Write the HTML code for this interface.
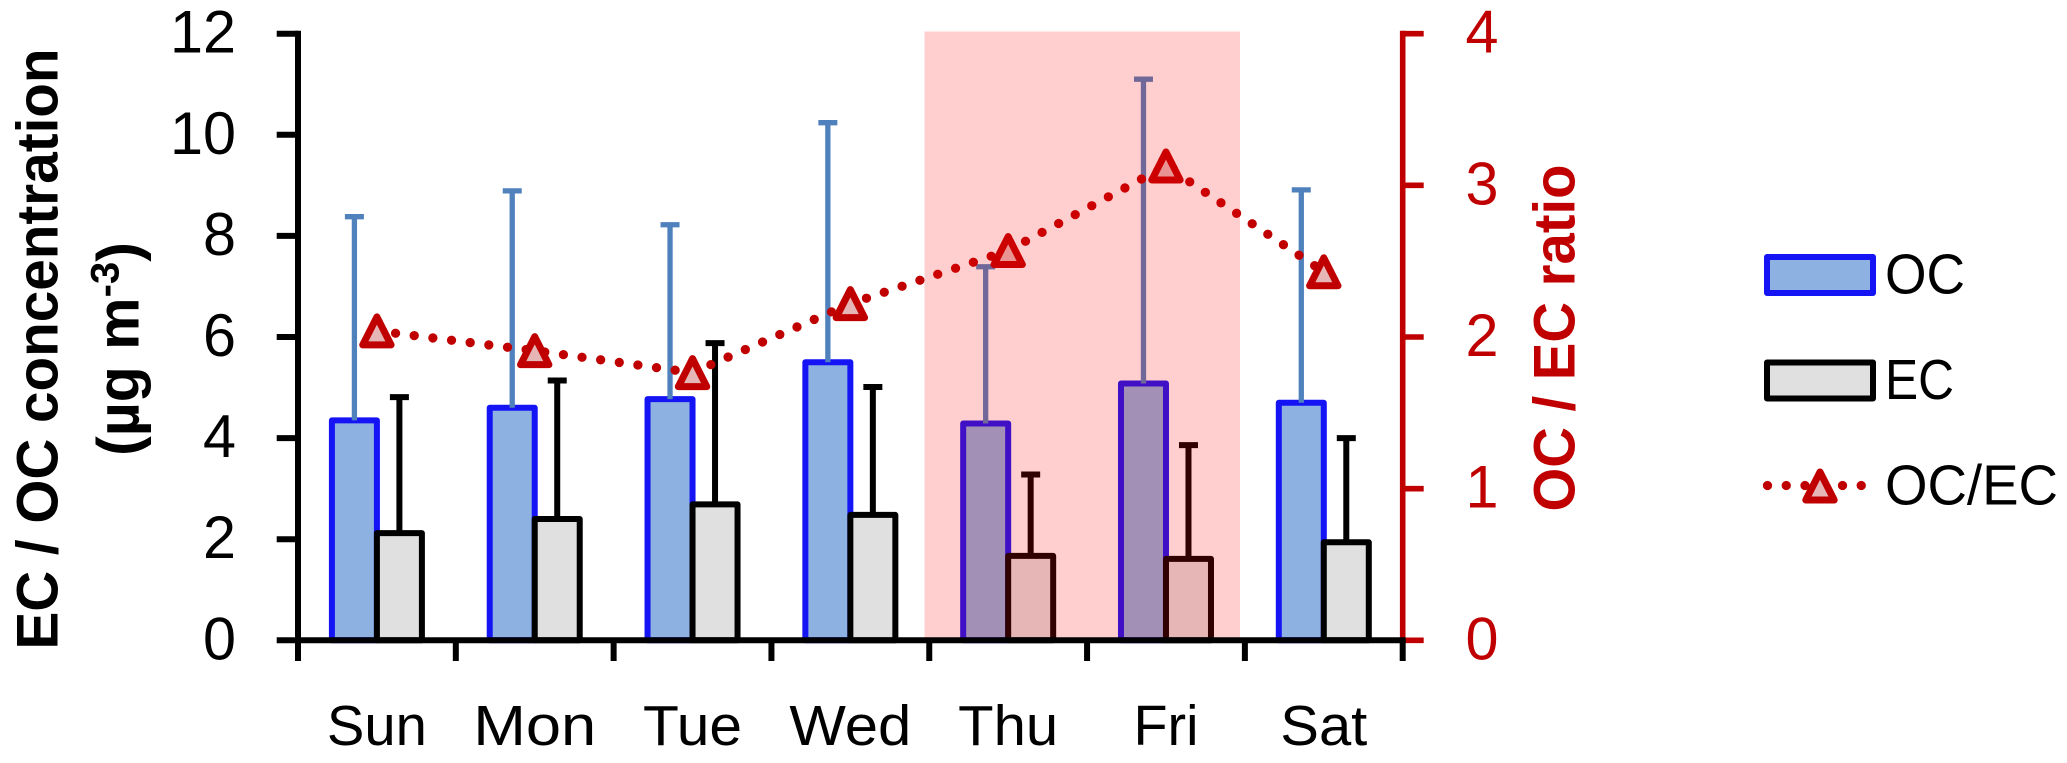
<!DOCTYPE html>
<html lang="en">
<head>
<meta charset="utf-8">
<title>EC and OC concentration by day of week</title>
<style>
  html, body { margin: 0; padding: 0; background: #ffffff; }
  svg { display: block; font-family: "Liberation Sans", Arial, sans-serif; }
</style>
</head>
<body>
<svg id="chart" xmlns="http://www.w3.org/2000/svg" width="2067" height="763" viewBox="0 0 2067 763">
  <rect x="0" y="0" width="2067" height="763" fill="#ffffff"/>
  <g id="marks"></g>
  <rect x="924.5" y="31.5" width="315.5" height="606" fill="rgb(255,0,0)" fill-opacity="0.19"/>
  <g id="axes"></g>

  <text transform="translate(57.5,349) rotate(-90)" text-anchor="middle" font-size="58" font-weight="bold" fill="#000000" textLength="601" lengthAdjust="spacingAndGlyphs">EC / OC concentration</text>
  <text transform="translate(138.5,349) rotate(-90)" text-anchor="middle" font-size="59" font-weight="bold" fill="#000000">(µg m<tspan font-size="40" dy="-20">-3</tspan><tspan dy="20">)</tspan></text>
  <text transform="translate(1574.5,338) rotate(-90)" text-anchor="middle" font-size="58" font-weight="bold" fill="#c00000" textLength="347" lengthAdjust="spacingAndGlyphs">OC / EC ratio</text>

  <g>
    <rect x="1767" y="257" width="106" height="36" fill="#8db2e2" stroke="#1414f5" stroke-width="6" stroke-linejoin="round"/>
    <text x="1885" y="293.5" font-size="57" fill="#000000" textLength="80" lengthAdjust="spacingAndGlyphs">OC</text>
    <rect x="1767" y="362.5" width="106" height="36" fill="#e0e0e0" stroke="#000000" stroke-width="6" stroke-linejoin="round"/>
    <text x="1885" y="399" font-size="57" fill="#000000" textLength="69" lengthAdjust="spacingAndGlyphs">EC</text>
    <line x1="1767.5" y1="485.5" x2="1862" y2="485.5" stroke="#c00000" stroke-width="9.3" stroke-linecap="round" stroke-dasharray="0 18.75"/>
    <path d="M1820 472 L1834.2 500 L1805.8 500 Z" fill="#e6b5b5" stroke="#c00000" stroke-width="7" stroke-linejoin="round"/>
    <text x="1885" y="504.5" font-size="57" fill="#000000" textLength="173" lengthAdjust="spacingAndGlyphs">OC/EC</text>
  </g>
</svg>

<script>
const categories = ['Sun', 'Mon', 'Tue', 'Wed', 'Thu', 'Fri', 'Sat'];
const ocValues = [4.35, 4.60, 4.77, 5.50, 4.29, 5.08, 4.70];
const ocErrorTops = [8.38, 8.89, 8.22, 10.24, 7.39, 11.10, 8.91];
const ecValues = [2.12, 2.40, 2.69, 2.48, 1.67, 1.61, 1.94];
const ecErrorTops = [4.81, 5.14, 5.88, 5.01, 3.28, 3.86, 4.00];
const ratioValues = [2.04, 1.91, 1.765, 2.22, 2.57, 3.128, 2.43];
const leftTicks = [0, 2, 4, 6, 8, 10, 12];
const rightTicks = [0, 1, 2, 3, 4];

const plot = { left: 298, right: 1402.7, top: 33.7, bottom: 640.3, leftMax: 12, rightMax: 4 };
const categoryLabelWidth = { Sun: 100, Mon: 123, Tue: 99, Wed: 122, Thu: 100, Fri: 65, Sat: 87 };

function bandWidth() { return (plot.right - plot.left) / categories.length; }
function xCenter(i) { return plot.left + bandWidth() * (i + 0.5); }
function yLeft(v) { return plot.bottom - (v / plot.leftMax) * (plot.bottom - plot.top); }
function yRight(v) { return plot.bottom - (v / plot.rightMax) * (plot.bottom - plot.top); }

const SVG_NS = 'http://www.w3.org/2000/svg';
function make(parent, tag, attrs, text) {
  const el = document.createElementNS(SVG_NS, tag);
  for (const k in attrs) el.setAttribute(k, attrs[k]);
  if (text !== undefined) el.textContent = text;
  parent.appendChild(el);
  return el;
}

const marks = document.getElementById('marks');
const axes = document.getElementById('axes');
const BAR_OFFSET = 22.5;
const BAR_WIDTH = 45;

function drawBarSeries(values, errorTops, cx, fill, stroke, errColor, errWidth, prefix) {
  values.forEach(function (v, i) {
    const x = cx(i);
    const bar = make(marks, 'rect', {
      x: x - BAR_WIDTH / 2, y: yLeft(v), width: BAR_WIDTH, height: plot.bottom - yLeft(v),
      fill: fill, stroke: stroke, 'stroke-width': 6, 'stroke-linejoin': 'round'
    });
    
    

    const err = make(marks, 'line', {
      x1: x, x2: x, y1: yLeft(v), y2: yLeft(errorTops[i]), stroke: errColor, 'stroke-width': errWidth
    });
    
    

    const cap = make(marks, 'line', {
      x1: x - 9.5, x2: x + 9.5, y1: yLeft(errorTops[i]), y2: yLeft(errorTops[i]), stroke: errColor, 'stroke-width': errWidth
    });
    
    
  });
}

drawBarSeries(ocValues, ocErrorTops, function (i) { return xCenter(i) - BAR_OFFSET; }, '#8db2e2', '#1414f5', '#4f81bd', 5.3, 'oc');
drawBarSeries(ecValues, ecErrorTops, function (i) { return xCenter(i) + BAR_OFFSET; }, '#e0e0e0', '#000000', '#000000', 6, 'ec');

/* ratio line: straight segments between the points */
const ratioPoints = ratioValues.map(function (v, i) { return xCenter(i) + ',' + yRight(v); }).join(' ');
const ratioLine = make(marks, 'polyline', {
  points: ratioPoints, fill: 'none', stroke: '#c00000', 'stroke-width': 9.3, 'stroke-linecap': 'round', 'stroke-dasharray': '0 18.8'
});



ratioValues.forEach(function (v, i) {
  const x = xCenter(i), y = yRight(v);
  const tri = make(marks, 'path', {
    d: 'M' + x + ' ' + (y - 14) + ' L' + (x + 14.2) + ' ' + (y + 14) + ' L' + (x - 14.2) + ' ' + (y + 14) + ' Z',
    fill: '#e6b5b5', stroke: '#c00000', 'stroke-width': 7, 'stroke-linejoin': 'round'
  });
  
  
});

/* right axis (drawn first, the black x axis sits on top) */
const rightAxis = make(axes, 'line', {
  x1: plot.right, x2: plot.right, y1: plot.top - 3, y2: plot.bottom, stroke: '#c00000', 'stroke-width': 5.6
});



rightTicks.forEach(function (t) {
  const y = yRight(t);
  const tick = make(axes, 'line', { x1: plot.right, x2: plot.right + 21, y1: y, y2: y, stroke: '#c00000', 'stroke-width': 5.6 });
  
  
  const label = make(axes, 'text', { x: 1482, y: y + 19, 'text-anchor': 'middle', 'font-size': 60, fill: '#c00000', textLength: 33, lengthAdjust: 'spacingAndGlyphs' }, String(t));
  
  
});

/* left axis */
const leftAxis = make(axes, 'line', {
  x1: plot.left, x2: plot.left, y1: plot.top - 3, y2: 661, stroke: '#000000', 'stroke-width': 6
});



leftTicks.forEach(function (t) {
  const y = yLeft(t);
  const tick = make(axes, 'line', { x1: 276.7, x2: plot.left, y1: y, y2: y, stroke: '#000000', 'stroke-width': 6 });
  
  
  const label = make(axes, 'text', { x: 236, y: y + 19, 'text-anchor': 'end', 'font-size': 60, fill: '#000000', textLength: String(t).length * 33, lengthAdjust: 'spacingAndGlyphs' }, String(t));
  
  
});

/* x axis */
const xAxis = make(axes, 'line', {
  x1: plot.left, x2: plot.right + 3, y1: plot.bottom, y2: plot.bottom, stroke: '#000000', 'stroke-width': 6
});



categories.forEach(function (c, i) {
  const edge = plot.left + bandWidth() * (i + 1);
  const tick = make(axes, 'line', { x1: edge, x2: edge, y1: plot.bottom, y2: 661, stroke: '#000000', 'stroke-width': 6 });
  
  
  const label = make(axes, 'text', {
    x: xCenter(i), y: 745, 'text-anchor': 'middle', 'font-size': 57, fill: '#000000',
    textLength: categoryLabelWidth[c], lengthAdjust: 'spacingAndGlyphs'
  }, c);
  
  
});
</script>
</body>
</html>
